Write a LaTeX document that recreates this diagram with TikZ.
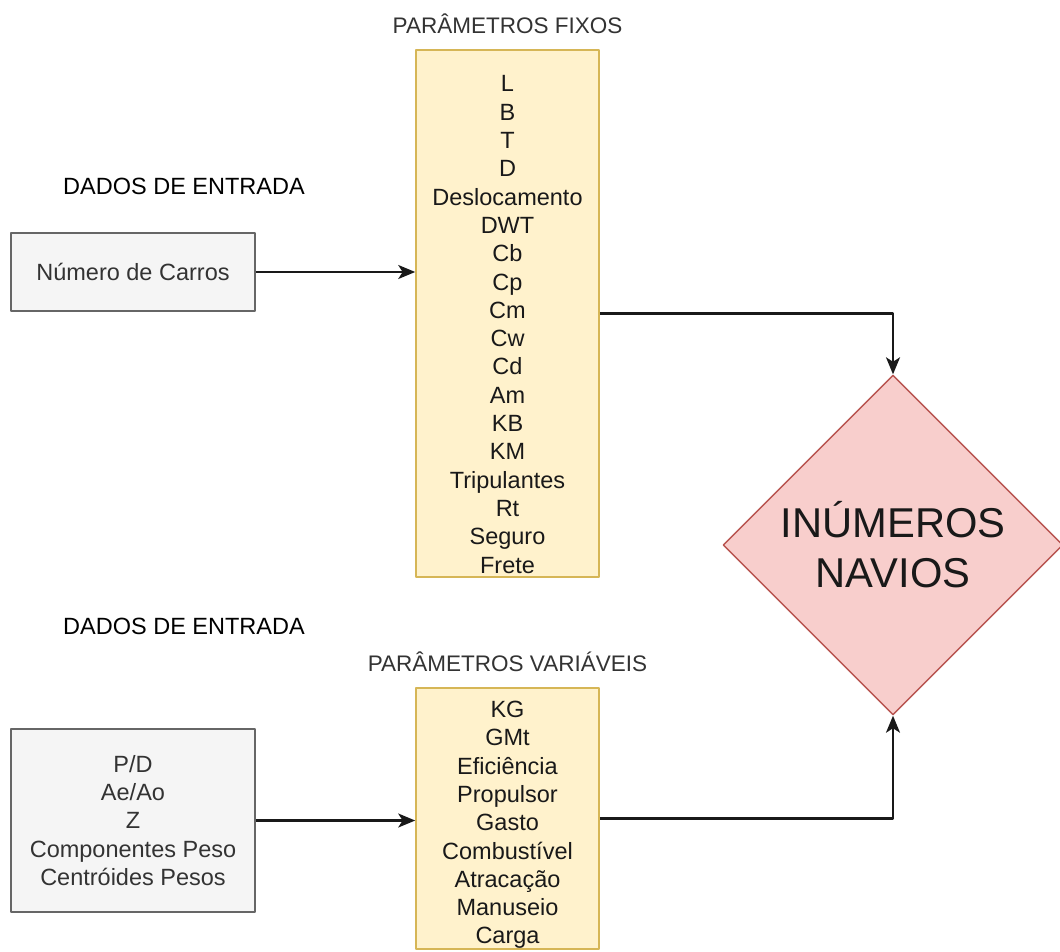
\documentclass[tikz,border=0pt]{standalone}
\usepackage{fontspec}
\setmainfont{Liberation Sans}
\usetikzlibrary{shapes.geometric,arrows.meta}
\definecolor{amarelo}{HTML}{FFF2CC}
\definecolor{bordaamarela}{HTML}{D6B656}
\definecolor{cinza}{HTML}{F5F5F5}
\definecolor{bordacinza}{HTML}{666666}
\definecolor{rosa}{HTML}{F8CECC}
\definecolor{bordarosa}{HTML}{B85450}
\definecolor{texto}{HTML}{333333}
\begin{document}
\begin{tikzpicture}[x=1pt,y=-1pt,>={Stealth[length=17pt,width=14pt,inset=4.5pt]},line join=round,
	caixa/.style={draw=bordacinza,fill=cinza,line width=1.6pt,minimum width=244pt,inner sep=0pt,text=texto,align=center,font=\fontsize{23.5}{28.3}\selectfont},
	param/.style={draw=bordaamarela,fill=amarelo,line width=1.6pt,minimum width=183pt,inner sep=0pt},
	lista/.style={align=center,inner sep=0pt,text=black!90,font=\fontsize{23.5}{28.3}\selectfont},
	titulo/.style={text=texto,font=\fontsize{22.5}{27}\selectfont},
	rotulo/.style={font=\fontsize{23.5}{28}\selectfont},
	seta/.style={->,line width=2.2pt,draw=black!90}]
	\clip (0,0) rectangle (1060,951);
	\fill[white] (0,0) rectangle (1060,951);
	
	\node[titulo] (tfixos) at (507.5,24) {PARÂMETROS FIXOS};
	\node[param,minimum height=527pt] (fixos) at (507.5,313.5) {};
	\node[lista] (lfixos) at (507.5,324.5) {L\\B\\T\\D\\Deslocamento\\DWT\\Cb\\Cp\\Cm\\Cw\\Cd\\Am\\KB\\KM\\Tripulantes\\Rt\\Seguro\\Frete};
	
	\node[rotulo] (dados1) at (184,186) {DADOS DE ENTRADA};
	\node[caixa,minimum height=78pt] (carros) at (133,272) {Número de Carros};
	
	\node[rotulo] (dados2) at (184,626) {DADOS DE ENTRADA};
	\node[caixa,minimum height=183pt] (entradas) at (133,820.5) {P/D\\Ae/Ao\\Z\\Componentes Peso\\Centróides Pesos};
	
	\node[titulo] (tvariaveis) at (507.5,662) {PARÂMETROS VARIÁVEIS};
	\node[param,minimum height=261pt] (variaveis) at (507.5,818.5) {};
	\node[lista] (lvariaveis) at (507.5,825) {KG\\GMt\\Eficiência\\Propulsor\\Gasto\\Combustível\\Atracação\\Manuseio\\Carga};
	
	\node[diamond,draw=bordarosa,fill=rosa,line width=1.4pt,minimum width=340pt,minimum height=340pt,inner sep=0pt,align=center,text=black!90,font=\fontsize{41.7}{50}\selectfont] (navios) at (893,545) {INÚMEROS\\NAVIOS};
	
	\draw[seta] (carros.east) -- (carros.east -| fixos.west);
	\draw[seta] (entradas.east) -- (entradas.east -| variaveis.west);
	\draw[seta] (fixos.east) -| (navios.north);
	\draw[seta] (variaveis.east) -| (navios.south);
\end{tikzpicture}
\end{document}
